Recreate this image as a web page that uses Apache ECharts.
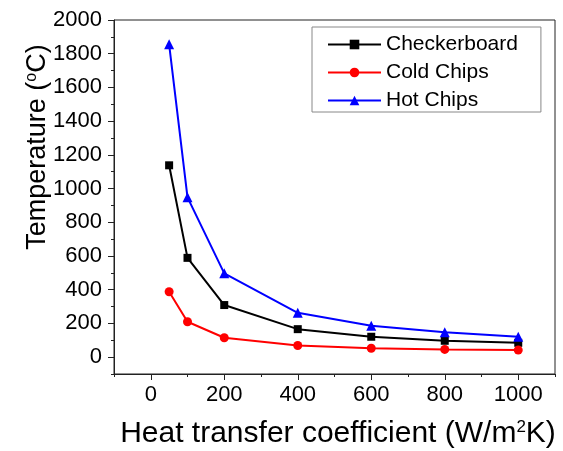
<!DOCTYPE html>
<html>
<head>
<meta charset="utf-8">
<script src="https://cdn.jsdelivr.net/npm/echarts@6/dist/echarts.min.js"></script>
<style>html,body{margin:0;padding:0;background:#fff}#c{width:563px;height:451px}</style>
</head>
<body>
<div id="c"></div>
<script>
const hValues = [50, 100, 200, 400, 600, 800, 1000];
const checkerboard = [1138, 589, 309, 166, 121, 97, 85];
const coldChips = [388, 210, 115, 69, 53, 46, 42];
const hotChips = [1856, 948, 497, 263, 186, 147, 121];
const xTicks = [0, 200, 400, 600, 800, 1000];
const yTicks = [0, 200, 400, 600, 800, 1000, 1200, 1400, 1600, 1800, 2000];

const FONT = "'Liberation Sans', Arial, sans-serif";
const AX = '#222';
const pairs = arr => hValues.map((x, i) => [x, arr[i]]);

const chart = echarts.init(document.getElementById('c'), null, {renderer: 'canvas'});
chart.setOption({
  animation: false,
  backgroundColor: '#fff',
  textStyle: {fontFamily: FONT},
  grid: {left: 114, right: 8, top: 20, bottom: 77, show: true, borderColor: AX, borderWidth: 1,
    backgroundColor: 'transparent', containLabel: false, outerBoundsMode: 'none'},
  legend: {
    orient: 'vertical', left: 312, top: 27,
    borderColor: '#888', borderWidth: 1, padding: [7, 23, 1, 15],
    itemGap: 7, itemWidth: 53, itemHeight: 12,
    textStyle: {fontSize: 21, color: '#000', fontFamily: FONT},
    data: ['Checkerboard', 'Cold Chips', 'Hot Chips']
  },
  xAxis: [{
    type: 'value', min: -100, max: 1100, interval: 100, position: 'bottom',
    name: 'Heat transfer coefficient (W/m{sup|2}K)', nameLocation: 'middle', nameGap: 45,
    nameMoveOverlap: false,
    nameTextStyle: {fontSize: 30, color: '#000', fontFamily: FONT, padding: [0, 0, 0, 7],
      rich: {sup: {fontSize: 17, verticalAlign: 'top', lineHeight: 15, color: '#000', fontFamily: FONT}}},
    axisLine: {show: true, onZero: false, lineStyle: {color: AX, width: 1}},
    axisTick: {show: true, length: 3, lineStyle: {color: AX}},
    axisLabel: {fontSize: 22, color: '#000', margin: 10, fontFamily: FONT,
      formatter: v => xTicks.indexOf(v) >= 0 ? String(v) : ''},
    splitLine: {show: false}
  }, {
    type: 'value', min: -100, max: 1100, interval: 100, position: 'bottom', gridIndex: 0,
    axisLine: {show: false, onZero: false},
    axisTick: {show: true, length: 6, customValues: xTicks, lineStyle: {color: AX}},
    axisLabel: {show: false},
    splitLine: {show: false}
  }],
  yAxis: [{
    type: 'value', min: -100, max: 2000, interval: 100, position: 'left',
    name: 'Temperature ({sup|o}C)', nameLocation: 'middle', nameGap: 63,
    nameMoveOverlap: false,
    nameTextStyle: {fontSize: 27, color: '#000', fontFamily: FONT, padding: [0, 0, 0, 100],
      rich: {sup: {fontSize: 16, verticalAlign: 'top', lineHeight: 14, color: '#000', fontFamily: FONT}}},
    axisLine: {show: true, onZero: false, lineStyle: {color: AX, width: 1}},
    axisTick: {show: true, length: 3, lineStyle: {color: AX}},
    axisLabel: {fontSize: 22, color: '#000', margin: 12, fontFamily: FONT,
      formatter: v => yTicks.indexOf(v) >= 0 ? String(v) : ''},
    splitLine: {show: false}
  }, {
    type: 'value', min: -100, max: 2000, interval: 100, position: 'left', gridIndex: 0,
    axisLine: {show: false, onZero: false},
    axisTick: {show: true, length: 6, customValues: yTicks, lineStyle: {color: AX}},
    axisLabel: {show: false},
    splitLine: {show: false}
  }],
  series: [
    {name: 'Checkerboard', type: 'line', data: pairs(checkerboard), color: '#000000',
      symbol: 'rect', symbolSize: 8, lineStyle: {width: 2}, xAxisIndex: 0, yAxisIndex: 0},
    {name: 'Cold Chips', type: 'line', data: pairs(coldChips), color: '#ff0000',
      symbol: 'circle', symbolSize: 9, lineStyle: {width: 2}, xAxisIndex: 0, yAxisIndex: 0},
    {name: 'Hot Chips', type: 'line', data: pairs(hotChips), color: '#0000ff',
      symbol: 'triangle', symbolSize: 10, lineStyle: {width: 2}, xAxisIndex: 0, yAxisIndex: 0}
  ]
});
</script>
</body>
</html>
